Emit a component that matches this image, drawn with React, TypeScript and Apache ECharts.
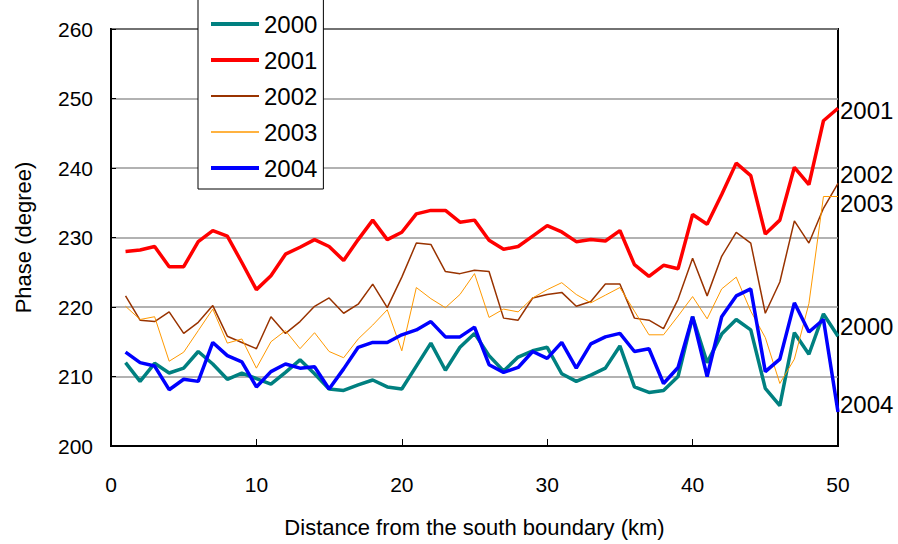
import React, { useEffect, useRef } from "react";
import * as echarts from "echarts";

const distanceKm = [
  1, 2, 3, 4, 5, 6, 7, 8, 9, 10, 11, 12, 13, 14, 15, 16, 17, 18, 19, 20, 21, 22, 23, 24, 25,
  26, 27, 28, 29, 30, 31, 32, 33, 34, 35, 36, 37, 38, 39, 40, 41, 42, 43, 44, 45, 46, 47, 48, 49, 50,
];

const phase2000 = [
  212.0, 209.3, 211.9, 210.5, 211.2, 213.6, 211.8, 209.6, 210.5, 209.7,
  208.9, 210.6, 212.4, 210.4, 208.2, 208.0, 208.8, 209.5, 208.5, 208.2,
  211.5, 214.8, 210.9, 214.2, 216.2, 213.0, 210.8, 212.8, 213.7, 214.2,
  210.4, 209.3, 210.2, 211.2, 214.4, 208.5, 207.7, 208.0, 210.0, 218.6,
  212.0, 216.1, 218.2, 216.7, 208.3, 205.8, 216.3, 213.2, 219.0, 215.8,
];
const phase2001 = [
  228.0, 228.2, 228.7, 225.8, 225.8, 229.4, 231.0, 230.2, 226.4, 222.5,
  224.5, 227.6, 228.6, 229.7, 228.7, 226.7, 229.7, 232.5, 229.7, 230.75,
  233.4, 233.9, 233.9, 232.2, 232.5, 229.6, 228.3, 228.7, 230.2, 231.7,
  230.8, 229.4, 229.7, 229.5, 231.0, 226.1, 224.4, 226.0, 225.5, 233.3,
  231.9, 236.2, 240.7, 238.9, 230.5, 232.5, 240.1, 237.6, 246.8, 248.6,
];
const phase2002 = [
  221.6, 218.1, 217.9, 219.3, 216.2, 217.8, 220.2, 215.8, 214.9, 214.0,
  218.6, 216.2, 217.9, 220.1, 221.3, 219.1, 220.4, 223.3, 219.9, 224.3,
  229.2, 229.0, 225.1, 224.8, 225.3, 225.1, 218.4, 218.1, 221.3, 221.8,
  222.1, 220.1, 220.8, 223.3, 223.3, 218.4, 218.1, 216.9, 221.1, 227.0,
  221.6, 227.3, 230.75, 229.2, 219.1, 223.6, 232.4, 229.2, 234.2, 237.8,
];
const phase2003 = [
  220.1, 218.2, 218.6, 212.2, 213.5, 216.6, 219.7, 214.8, 215.4, 211.2,
  215.0, 216.6, 214.0, 216.3, 213.6, 212.7, 215.4, 217.4, 219.6, 213.7,
  222.8, 221.2, 219.9, 221.8, 224.8, 218.5, 219.7, 219.3, 221.3, 222.5,
  223.5, 221.8, 220.6, 221.7, 222.8, 219.4, 216.0, 216.0, 218.7, 221.5,
  218.3, 222.6, 224.3, 219.4, 215.6, 209.0, 212.5, 220.5, 235.9, 235.9,
];
const phase2004 = [
  213.5, 212.0, 211.5, 208.1, 209.6, 209.3, 214.9, 213.0, 212.1, 208.5,
  210.7, 211.8, 211.2, 211.4, 208.2, 211.1, 214.2, 214.9, 214.9, 216.0,
  216.7, 217.9, 215.7, 215.7, 217.1, 211.7, 210.6, 211.3, 213.6, 212.6,
  214.9, 211.2, 214.7, 215.7, 216.2, 213.6, 214.0, 209.0, 211.3, 218.6,
  210.0, 218.6, 221.6, 222.6, 210.7, 212.5, 220.6, 216.4, 218.2, 204.9,
];

const seriesNames = ["2000", "2001", "2002", "2003", "2004"];
const seriesValues = [phase2000, phase2001, phase2002, phase2003, phase2004];
const seriesColors = ["#008080", "#FF0000", "#993300", "#FF9900", "#0000FF"];
const seriesWidths = [3.5, 3.5, 1.5, 1, 3.5];
const endLabelShift = [-10, 2, -9, 7, -7];

const FONT = "'Liberation Sans', Arial, sans-serif";

export default function App() {
  const ref = useRef<HTMLDivElement>(null);

  useEffect(() => {
    document.body.style.margin = "0";
    document.body.style.overflow = "hidden";
    const chart = echarts.init(ref.current!, undefined, { renderer: "svg" });

    const series = seriesNames.map((name, i) => ({
      name,
      type: "line",
      symbol: "none",
      data: distanceKm.map((d, j) => [d, seriesValues[i][j]]),
      lineStyle: { color: seriesColors[i], width: seriesWidths[i] },
      itemStyle: { color: seriesColors[i] },
      endLabel: {
        show: true,
        formatter: "{a}",
        fontSize: 24,
        fontFamily: FONT,
        color: "#000",
        distance: 2,
        offset: [0, endLabelShift[i]],
      },
      z: 2 + i,
    }));

    chart.setOption({
      animation: false,
      backgroundColor: "#fff",
      textStyle: { fontFamily: FONT },
      grid: {
        left: 111,
        right: 60,
        top: 29,
        bottom: 98,
        show: true,
        borderColor: "#000",
        borderWidth: 2,
        backgroundColor: "transparent",
      },
      legend: {
        orient: "vertical",
        left: 198,
        top: -8,
        padding: [20, 6, 9, 11],
        itemGap: 12,
        itemWidth: 48,
        itemHeight: 14,
        backgroundColor: "#fff",
        borderColor: "#000",
        borderWidth: 1,
        borderRadius: 0,
        itemStyle: { opacity: 0 },
        textStyle: { fontSize: 24, fontFamily: FONT, color: "#000", lineHeight: 24 },
        data: seriesNames.map((name, i) => ({
          name,
          lineStyle: { color: seriesColors[i], width: seriesWidths[i] + 0.5 },
        })),
        z: 20,
      },
      xAxis: {
        type: "value",
        min: 0,
        max: 50,
        interval: 10,
        name: "Distance from the south boundary (km)",
        nameLocation: "middle",
        nameGap: 70,
        nameTextStyle: { fontSize: 22, fontFamily: FONT, color: "#000" },
        axisLine: { show: true, lineStyle: { color: "#000", width: 2 } },
        axisTick: { show: true, inside: true, length: 7, lineStyle: { color: "#000", width: 1 } },
        axisLabel: { fontSize: 21, fontFamily: FONT, color: "#000", margin: 28 },
        splitLine: { show: false },
      },
      yAxis: {
        type: "value",
        min: 200,
        max: 260,
        interval: 10,
        name: "Phase (degree)",
        nameLocation: "middle",
        nameGap: 77,
        nameTextStyle: { fontSize: 22, fontFamily: FONT, color: "#000" },
        axisLine: { show: true, lineStyle: { color: "#000", width: 2 } },
        axisTick: { show: true, inside: true, length: 5, lineStyle: { color: "#000", width: 1 } },
        axisLabel: { fontSize: 21, fontFamily: FONT, color: "#000", margin: 18 },
        splitLine: { show: true, lineStyle: { color: "#999", width: 1.5 } },
      },
      series,
    });

    return () => chart.dispose();
  }, []);

  return <div ref={ref} style={{ width: 898, height: 544 }} />;
}
